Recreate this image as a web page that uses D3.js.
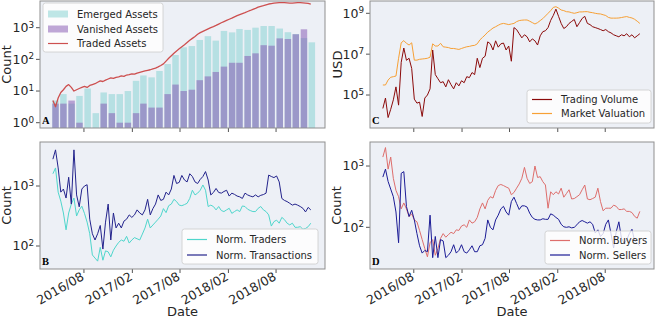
<!DOCTYPE html>
<meta charset="utf-8">
<style>
body { margin: 0; background: #fff; }
text { font-family: "DejaVu Sans", sans-serif; fill: #262626; }
.letter { font-family: "Liberation Serif", "DejaVu Serif", serif; font-weight: bold; }
</style>
<svg width="658" height="319"></svg>
<script src="https://d3js.org/d3.v7.min.js"></script>
<script>

// ---- panel A: monthly bars (Apr 2016 .. Dec 2018)
var barMonths = d3.timeMonth.range(new Date(2016, 3, 1), new Date(2019, 0, 1));
var emerged  = [5, 8, 4, 7, 12, 2, 9, 8, 8, 10, 21, 31, 27, 43, 71, 137, 240, 263, 410, 540, 390,
                790, 710, 910, 850, 1000, 1130, 1130, 940, 720, 630, 470, 345];
var vanished = [4, 4, 5, 1, 0, 0, 4, 2, 1, 1, 2, 4, 3, 3, 8, 16, 10, 11, 22, 29, 40,
                59, 78, 78, 128, 155, 280, 270, 460, 440, 620, 890, 0];

// ---- line series, one value every 10 days from 2016-04-05
var seriesStart = new Date(2016, 3, 5), stepDays = 10;

var tradedAssets = [5, 3.2, 6, 9, 11, 14, 16, 13, 10, 11,
  12, 13, 14, 13, 15, 16, 17, 19, 21, 20,
  22, 24, 26, 25, 27, 28, 30, 29, 32, 33,
  35, 34, 37, 39, 41, 43, 45, 47, 50, 53,
  58, 64, 72, 88, 108, 130, 155, 185, 215, 250,
  290, 340, 400, 460, 530, 620, 700, 770, 840, 920,
  1000, 1080, 1180, 1300, 1430, 1560, 1700, 1850, 2000, 2200,
  2400, 2600, 2800, 3000, 3250, 3500, 3800, 4100, 4450, 4750,
  5000, 5300, 5600, 5800, 6000, 6100, 6200, 6150, 6200, 6100,
  6000, 6000, 6100, 6200, 6200, 6100, 6000, 5900, 5600];

var tradingVolume = [2.2e4, 7.1e4, 7.9e3, 2.0e4, 5.8e4, 2.5e5, 3.2e4, 4.0e6, 2.0e7, 5.0e6,
  6.3e6, 2.0e6, 6.3e4, 4.0e4, 4.5e4, 8.9e3, 7.1e4, 1.0e5, 2.0e5, 1.6e7,
  1.0e6, 6.3e5, 4.0e5, 4.5e5, 2.5e5, 5.6e5, 3.2e5, 2.0e5, 4.0e5, 2.8e5,
  5.0e5, 4.0e5, 7.9e5, 7.1e5, 1.26e6, 1.0e6, 6.3e6, 2.2e6, 6.3e6, 7.9e6,
  4.0e7, 3.2e7, 1.6e7, 4.5e7, 2.2e7, 3.2e7, 3.5e7, 1.6e7, 2.5e7, 4.5e6,
  2.0e8, 1.6e8, 1.0e8, 6.3e7, 8.9e7, 7.1e7, 4.0e7, 5.6e7, 4.5e7, 2.8e7,
  7.9e7, 1.26e8, 1.4e8, 2.0e8, 4.5e8, 7.9e8, 1.6e9, 7.1e8, 3.2e8, 1.8e8,
  2.2e8, 3.2e8, 4.0e8, 5.0e8, 2.2e8, 3.5e8, 5.6e8, 7.1e8, 3.2e8, 2.8e8,
  2.2e8, 2.0e8, 1.8e8, 1.6e8, 1.4e8, 1.6e8, 1.26e8, 1.1e8, 8.9e7, 7.9e7,
  7.1e7, 8.9e7, 7.9e7, 1.0e8, 7.1e7, 8.9e7, 6.3e7, 7.9e7, 1.0e8];

var marketValuation = [3.1e5, 3.1e5, 5.4e5, 7.4e5, 7.9e5, 8.5e5, 6.3e6, 3.6e7, 4.6e7, 3.4e7,
  2.8e7, 3.6e7, 5.1e6, 5.1e6, 5.6e6, 5.8e6, 6.0e6, 6.3e6, 7.1e6, 3.2e7,
  2.5e7, 2.5e7, 3.4e7, 2.3e7, 2.2e7, 2.1e7, 1.9e7, 1.9e7, 1.8e7, 1.7e7,
  1.9e7, 2.1e7, 2.3e7, 2.4e7, 2.6e7, 2.7e7, 3.2e7, 5.0e7, 6.6e7, 8.7e7,
  1.2e8, 1.5e8, 1.9e8, 2.2e8, 2.6e8, 3.0e8, 3.2e8, 3.0e8, 2.8e8, 3.0e8,
  3.2e8, 3.9e8, 4.4e8, 4.6e8, 4.7e8, 4.7e8, 4.1e8, 3.5e8, 3.0e8, 3.5e8,
  4.4e8, 5.5e8, 7.4e8, 1.0e9, 1.35e9, 1.95e9, 2.1e9, 1.8e9, 1.45e9, 1.35e9,
  1.2e9, 1.17e9, 1.07e9, 1.0e9, 1.07e9, 1.17e9, 1.17e9, 1.2e9, 1.2e9, 1.12e9,
  1.07e9, 1.0e9, 9.5e8, 9.3e8, 8.5e8, 7.8e8, 6.3e8, 5.8e8, 5.8e8, 5.8e8,
  5.9e8, 6.2e8, 6.6e8, 6.9e8, 6.3e8, 5.9e8, 5.1e8, 4.1e8, 3.2e8];

var normTraders = [1600, 2000, 790, 560, 355, 186, 355, 500, 630, 316,
  400, 460, 350, 250, 160, 71, 63, 56, 95, 58,
  83, 80, 66, 85, 100, 115, 126, 120, 145, 112,
  126, 138, 132, 126, 158, 200, 280, 200, 224, 250,
  280, 316, 420, 360, 470, 500, 600, 550, 480, 470,
  490, 515, 620, 850, 710, 760, 850, 1040, 850, 455,
  480, 455, 400, 455, 390, 375, 400, 425, 350, 375,
  400, 375, 465, 455, 410, 390, 375, 375, 425, 455,
  400, 375, 330, 215, 255, 270, 240, 300, 275, 240,
  225, 240, 205, 205, 210, 190, 196, 210, 240];

var normTransactions = [2800, 4000, 2000, 790, 890, 630, 1400, 500, 4000, 710,
  450, 890, 1000, 1050, 280, 160, 126, 160, 220, 89,
  250, 500, 126, 355, 200, 240, 200, 260, 280, 330,
  300, 330, 400, 355, 330, 400, 600, 330, 420, 500,
  710, 575, 600, 790, 710, 890, 1500, 1100, 1150, 1500,
  1260, 1170, 1600, 1440, 1170, 1100, 1290, 1440, 1740, 1260,
  710, 780, 910, 780, 760, 810, 850, 680, 760, 725,
  680, 660, 620, 760, 710, 680, 660, 710, 660, 700,
  720, 760, 1520, 1440, 1380, 1470, 1170, 620, 575, 550,
  515, 480, 500, 480, 455, 425, 370, 440, 400];

var normBuyers = [1400, 2000, 890, 1400, 630, 400, 316, 200, 250, 200,
  150, 166, 132, 123, 89, 63, 45, 33, 56, 63,
  35, 45, 66, 79, 69, 76, 83, 79, 91, 89,
  105, 110, 100, 132, 117, 123, 145, 200, 250, 200,
  275, 316, 300, 400, 480, 500, 480, 455, 435, 340,
  370, 435, 510, 630, 950, 630, 520, 555, 1000, 650,
  670, 555, 490, 205, 380, 340, 380, 350, 435, 310,
  355, 410, 290, 295, 316, 340, 410, 490, 290, 282,
  295, 310, 435, 263, 186, 205, 205, 205, 230, 220,
  195, 195, 200, 182, 182, 174, 151, 141, 182];

var normSellers = [660, 890, 560, 420, 316, 178, 56, 760, 810, 218,
  150, 190, 132, 79, 50, 38, 42, 40, 158, 32,
  71, 32, 63, 60, 32, 35, 40, 52, 38, 42,
  52, 40, 38, 43, 50, 40, 40, 50, 52, 66,
  132, 100, 91, 132, 158, 200, 220, 178, 158, 263,
  310, 245, 195, 224, 224, 214, 170, 145, 135, 132,
  132, 138, 135, 135, 166, 158, 145, 135, 112, 102,
  100, 102, 98, 100, 110, 123, 129, 123, 117, 123,
  112, 81, 91, 71, 79, 112, 132, 79, 46, 85,
  123, 66, 56, 62, 79, 93, 60, 55, 50];

// ---- ticks
var dateTicks = [new Date(2016, 7, 1), new Date(2017, 1, 1), new Date(2017, 7, 1),
                 new Date(2018, 1, 1), new Date(2018, 7, 1)];
var yTicksA = [1, 10, 100, 1000];
var yTicksB = [100, 1000];
var yTicksC = [1e5, 1e7, 1e9];
var yTicksD = [100, 1000];

var svg = d3.select("svg");
var fmt = d3.timeFormat("%Y/%m");
var xDomain = [new Date(2016, 1, 16), new Date(2019, 1, 3)];
var colL = [40, 325], colR = [370, 654];
var rowT = [1, 128], rowB = [142, 269];

function seriesDate(i) { return d3.timeDay.offset(seriesStart, i * stepDays); }

function makePanel(id, cols, rows, yDomain, yTicks, ylab, ylabX, bottomRow) {
  var x = d3.scaleTime().domain(xDomain).range(cols);
  var y = d3.scaleLog().domain(yDomain).range([rows[1], rows[0]]);
  var g = svg.append("g");
  svg.append("clipPath").attr("id", "clip" + id).append("rect")
    .attr("x", cols[0]).attr("y", rows[0])
    .attr("width", cols[1] - cols[0]).attr("height", rows[1] - rows[0]);
  g.append("rect")
    .attr("x", cols[0]).attr("y", rows[0])
    .attr("width", cols[1] - cols[0]).attr("height", rows[1] - rows[0])
    .attr("fill", "#edf0f6");
  var plot = g.append("g").attr("clip-path", "url(#clip" + id + ")");

  // y ticks
  yTicks.forEach(function(v) {
    var yy = y(v);
    g.append("line").attr("x1", cols[0] - 4).attr("x2", cols[0])
      .attr("y1", yy).attr("y2", yy).attr("stroke", "#555");
    var t = g.append("text").attr("x", cols[0] - 6).attr("y", yy)
      .attr("text-anchor", "end").attr("font-size", 12.5);
    t.append("tspan").attr("dy", "0.35em").text("10");
    t.append("tspan").attr("font-size", 8.8).attr("dy", -4.5)
      .text(Math.round(Math.log10(v)));
  });
  // x ticks
  dateTicks.forEach(function(d) {
    var xx = x(d);
    g.append("line").attr("x1", xx).attr("x2", xx)
      .attr("y1", rows[1]).attr("y2", rows[1] + 4).attr("stroke", "#555");
    if (bottomRow) {
      g.append("text")
        .attr("transform", "translate(" + (xx + 1) + "," + (rows[1] + 10) + ") rotate(-30)")
        .attr("text-anchor", "end").attr("font-size", 12.5).text(fmt(d));
    }
  });
  if (bottomRow) {
    g.append("text").attr("x", (cols[0] + cols[1]) / 2).attr("y", 316)
      .attr("text-anchor", "middle").attr("font-size", 13).text("Date");
  }
  g.append("text")
    .attr("transform", "translate(" + ylabX + "," + ((rows[0] + rows[1]) / 2) + ") rotate(-90)")
    .attr("text-anchor", "middle").attr("font-size", 13).text(ylab);

  return { x: x, y: y, g: g, plot: plot, cols: cols, rows: rows, id: id };
}

function finishPanel(p) {
  p.g.append("rect")
    .attr("x", p.cols[0]).attr("y", p.rows[0])
    .attr("width", p.cols[1] - p.cols[0]).attr("height", p.rows[1] - p.rows[0])
    .attr("fill", "none").attr("stroke", "#8f8f8f").attr("stroke-width", 1);
  p.g.append("text").attr("class", "letter")
    .attr("x", p.cols[0] + 2).attr("y", p.rows[1] - 4)
    .attr("font-size", 10.5).style("fill", "#000").text(p.id);
}

function drawLine(p, values, color, width) {
  var line = d3.line()
    .x(function(d, i) { return p.x(seriesDate(i)); })
    .y(function(d) { return p.y(d); });
  p.plot.append("path").datum(values)
    .attr("fill", "none").attr("stroke", color)
    .attr("stroke-width", width).attr("stroke-linejoin", "round")
    .attr("d", line);
}

function legend(p, x, y, w, h, rowY, items) {
  var lg = p.g.append("g");
  lg.append("rect").attr("x", x).attr("y", y).attr("width", w).attr("height", h)
    .attr("rx", 2.5).attr("fill", "#fff").attr("fill-opacity", 0.8)
    .attr("stroke", "#cccccc").attr("stroke-width", 0.8);
  items.forEach(function(it, i) {
    var cy = rowY[i];
    if (it.type === "patch") {
      lg.append("rect").attr("x", x + 5).attr("y", cy - 3.5)
        .attr("width", 20).attr("height", 7)
        .attr("fill", it.color).attr("fill-opacity", it.opacity);
    } else {
      lg.append("line").attr("x1", x + 5).attr("x2", x + 25)
        .attr("y1", cy).attr("y2", cy)
        .attr("stroke", it.color).attr("stroke-width", 1.2);
    }
    lg.append("text").attr("x", x + 34).attr("y", cy).attr("dy", "0.35em")
      .attr("font-size", 10).text(it.label);
  });
}

var emergedColor = "#7fcfd0", vanishedColor = "#8050b0";
var tradedColor = "#cd4f4f", volumeColor = "#8b0a0a", valuationColor = "#f7a035";
var tradersColor = "#4fd6cc", transColor = "#23238c";
var buyersColor = "#de6e6c", sellersColor = "#1c1c96";

// ---- A
var pA = makePanel("A", colL, rowT, [0.68, 6970], yTicksA, "Count", 11, false);
var monthW = pA.x(barMonths[1]) - pA.x(barMonths[0]);
var barW = monthW * 0.82;
function barX(d) { return pA.x(d3.timeDay.offset(d, 14)) - barW / 2; }
pA.plot.selectAll("rect.em").data(emerged).join("rect").attr("class", "em")
  .attr("x", function(d, i) { return barX(barMonths[i]); })
  .attr("width", barW)
  .attr("y", function(d) { return d > 0 ? pA.y(d) : rowT[1]; })
  .attr("height", function(d) { return d > 0 ? rowT[1] - pA.y(d) : 0; })
  .attr("fill", emergedColor).attr("fill-opacity", 0.5);
pA.plot.selectAll("rect.va").data(vanished).join("rect").attr("class", "va")
  .attr("x", function(d, i) { return barX(barMonths[i]); })
  .attr("width", barW)
  .attr("y", function(d) { return d > 0 ? pA.y(d) : rowT[1]; })
  .attr("height", function(d) { return d > 0 ? rowT[1] - pA.y(d) : 0; })
  .attr("fill", vanishedColor).attr("fill-opacity", 0.5);
drawLine(pA, tradedAssets, tradedColor, 1.3);
legend(pA, 43, 3, 120, 49, [14, 29, 43.5], [
  { type: "patch", color: emergedColor, opacity: 0.5, label: "Emerged Assets" },
  { type: "patch", color: vanishedColor, opacity: 0.5, label: "Vanished Assets" },
  { type: "line", color: tradedColor, label: "Traded Assets" }
]);
finishPanel(pA);

// ---- B
var pB = makePanel("B", colL, rowB, [41.4, 5410], yTicksB, "Count", 11, true);
drawLine(pB, normTraders, tradersColor, 1);
drawLine(pB, normTransactions, transColor, 1);
legend(pB, 182, 229, 136, 35, [239.5, 255], [
  { type: "line", color: tradersColor, label: "Norm. Traders" },
  { type: "line", color: transColor, label: "Norm. Transactions" }
]);
finishPanel(pB);

// ---- C
var pC = makePanel("C", colR, rowT, [2430, 4.0e9], yTicksC, "USD", 342, false);
drawLine(pC, tradingVolume, volumeColor, 1);
drawLine(pC, marketValuation, valuationColor, 1);
legend(pC, 527, 90, 124, 33, [99.5, 113.5], [
  { type: "line", color: volumeColor, label: "Trading Volume" },
  { type: "line", color: valuationColor, label: "Market Valuation" }
]);
finishPanel(pC);

// ---- D
var pD = makePanel("D", colR, rowB, [20.9, 2465], yTicksD, "Count", 341, true);
drawLine(pD, normBuyers, buyersColor, 1);
drawLine(pD, normSellers, sellersColor, 1);
legend(pD, 545, 231, 106, 33, [240.5, 255], [
  { type: "line", color: buyersColor, label: "Norm. Buyers" },
  { type: "line", color: sellersColor, label: "Norm. Sellers" }
]);
finishPanel(pD);

</script>
